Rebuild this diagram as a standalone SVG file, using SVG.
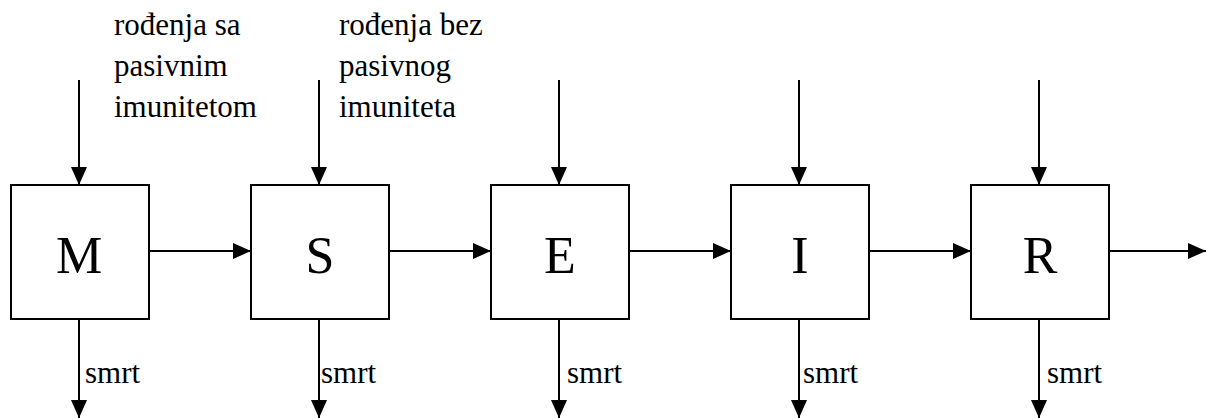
<svg xmlns="http://www.w3.org/2000/svg" width="1206" height="419" viewBox="0 0 1206 419">
  <style>
    .box { fill: #fff; stroke: #000; stroke-width: 2; }
    .lbl { font-size: 52px; text-anchor: middle; fill: #000; }
    .txt { font-size: 31px; fill: #000; }
    .edge { stroke: #000; stroke-width: 2; fill: none; marker-end: url(#arrow); }
  </style>
  <defs>
    <marker id="arrow" viewBox="0 0 18 16" refX="18" refY="8" markerWidth="18" markerHeight="16" markerUnits="userSpaceOnUse" orient="auto">
      <path d="M0,0 L18,8 L0,16 z" fill="#000"/>
    </marker>
  </defs>

  <rect width="1206" height="419" fill="#fff"/>

  <g id="connectors">
    <!-- inflows from above -->
    <line class="edge" x1="79" y1="80" x2="79" y2="185"/>
    <line class="edge" x1="319" y1="80" x2="319" y2="185"/>
    <line class="edge" x1="559" y1="80" x2="559" y2="185"/>
    <line class="edge" x1="799" y1="80" x2="799" y2="185"/>
    <line class="edge" x1="1039" y1="80" x2="1039" y2="185"/>
    <!-- transitions between compartments -->
    <line class="edge" x1="149" y1="251" x2="251" y2="251"/>
    <line class="edge" x1="389" y1="251" x2="491" y2="251"/>
    <line class="edge" x1="629" y1="251" x2="731" y2="251"/>
    <line class="edge" x1="869" y1="251" x2="971" y2="251"/>
    <line class="edge" x1="1109" y1="251" x2="1206" y2="251"/>
    <!-- deaths -->
    <line class="edge" x1="79" y1="319" x2="79" y2="418"/>
    <line class="edge" x1="319" y1="319" x2="319" y2="418"/>
    <line class="edge" x1="559" y1="319" x2="559" y2="418"/>
    <line class="edge" x1="799" y1="319" x2="799" y2="418"/>
    <line class="edge" x1="1039" y1="319" x2="1039" y2="418"/>
  </g>

  <g id="inflow-labels" font-family="'Liberation Serif', 'Times New Roman', Times, serif">
    <text class="txt" x="114" y="35">rođenja sa</text>
    <text class="txt" x="114" y="76">pasivnim</text>
    <text class="txt" x="114" y="117">imunitetom</text>
    <text class="txt" x="339" y="35">rođenja bez</text>
    <text class="txt" x="339" y="76">pasivnog</text>
    <text class="txt" x="339" y="117">imuniteta</text>
  </g>

  <g id="death-labels" font-family="'Liberation Serif', 'Times New Roman', Times, serif">
    <text class="txt" x="85" y="383">smrt</text>
    <text class="txt" x="321" y="383">smrt</text>
    <text class="txt" x="567" y="383">smrt</text>
    <text class="txt" x="803" y="383">smrt</text>
    <text class="txt" x="1047" y="383">smrt</text>
  </g>

  <g font-family="'Liberation Serif', 'Times New Roman', Times, serif">
    <g id="node-M">
      <rect class="box" x="11" y="185" width="138" height="134"/>
      <text class="lbl" x="79" y="273">M</text>
    </g>
    <g id="node-S">
      <rect class="box" x="251" y="185" width="138" height="134"/>
      <text class="lbl" x="320" y="273">S</text>
    </g>
    <g id="node-E">
      <rect class="box" x="491" y="185" width="138" height="134"/>
      <text class="lbl" x="560" y="273">E</text>
    </g>
    <g id="node-I">
      <rect class="box" x="731" y="185" width="138" height="134"/>
      <text class="lbl" x="800" y="273">I</text>
    </g>
    <g id="node-R">
      <rect class="box" x="971" y="185" width="138" height="134"/>
      <text class="lbl" x="1040" y="273">R</text>
    </g>
  </g>
</svg>
